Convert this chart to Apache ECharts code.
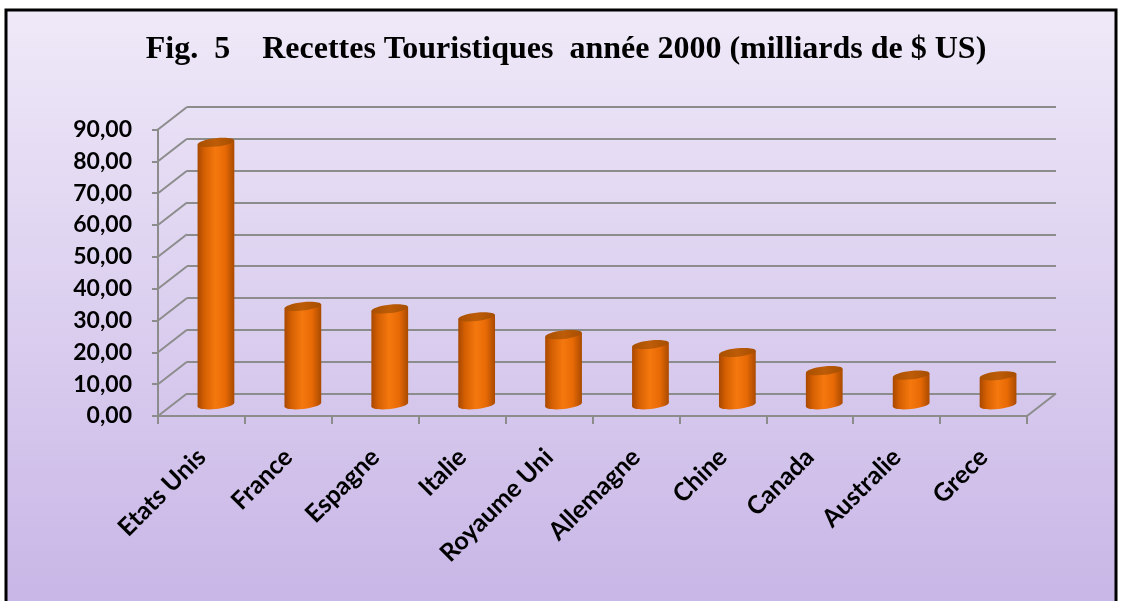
<!DOCTYPE html>
<html>
<head>
<meta charset="utf-8">
<script src="https://cdn.jsdelivr.net/npm/echarts@6/dist/echarts.min.js"></script>
<style>
html,body{margin:0;padding:0;background:#fff;}
#chart{width:1123px;height:601px;}
</style>
</head>
<body>
<div id="chart"></div>
<script>
// ---- data ----
const categories = ['Etats Unis', 'France', 'Espagne', 'Italie', 'Royaume Uni', 'Allemagne', 'Chine', 'Canada', 'Australie', 'Grece'];
const values = [82.4, 30.9, 30.1, 27.6, 22.0, 18.9, 16.4, 10.7, 9.3, 9.1];
const yTicks = [0, 10, 20, 30, 40, 50, 60, 70, 80, 90];
const titleText = 'Fig.  5    Recettes Touristiques  année 2000 (milliards de $ US)';

// ---- style constants ----
const DX = 29, DY = -22.5;       // depth offset of back wall
const GRID_COLOR = '#8c8c8c';
const LABEL_FONT = 'Lato';

const chart = echarts.init(document.getElementById('chart'), null, {renderer: 'canvas'});

function fmt(v) { return v.toFixed(2).replace('.', ','); }

const option = {
  backgroundColor: '#ffffff',
  animation: false,
  graphic: [
    {
      type: 'rect', z: -10, silent: true,
      shape: {x: 6, y: 10, width: 1110, height: 640},
      style: {
        fill: new echarts.graphic.LinearGradient(0, 0, 0, 1, [
          {offset: 0, color: '#efe9f8'},
          {offset: 1, color: '#c5b2e5'}
        ])
      }
    },
    {
      type: 'rect', z: 100, silent: true,
      shape: {x: 6, y: 10, width: 1110, height: 640},
      style: {fill: null, stroke: '#000', lineWidth: 3}
    },
    {
      type: 'text', z: 100, silent: true,
      style: {
        text: titleText, x: 566, y: 50,
        textAlign: 'center', textVerticalAlign: 'middle',
        font: 'bold 32px "Liberation Serif"', fill: '#000'
      }
    }
  ],
  grid: [
    {left: 158, right: 96, top: 129.5, bottom: 185},
    {left: 158 + DX, right: 96 - DX, top: 129.5 + DY, bottom: 185 - DY}
  ],
  xAxis: [
    {
      type: 'category', gridIndex: 0, data: categories,
      axisLine: {show: true, lineStyle: {color: GRID_COLOR, width: 2}},
      axisTick: {show: true, length: 8, lineStyle: {color: GRID_COLOR, width: 2}},
      axisLabel: {
        interval: 0, rotate: 45, margin: 37,
        fontFamily: LABEL_FONT, fontWeight: 'bold', fontSize: 25, color: '#000'
      },
      splitLine: {show: false}
    },
    {type: 'category', gridIndex: 1, data: categories, show: false}
  ],
  yAxis: [
    {
      type: 'value', gridIndex: 0, min: 0, max: 90, interval: 10,
      axisLine: {show: true, lineStyle: {color: GRID_COLOR, width: 2}},
      axisTick: {show: true, length: 6, lineStyle: {color: GRID_COLOR, width: 2}},
      axisLabel: {
        formatter: fmt, margin: 26,
        fontFamily: LABEL_FONT, fontWeight: 'bold', fontSize: 23, color: '#000'
      },
      splitLine: {show: false}
    },
    {
      type: 'value', gridIndex: 1, min: 0, max: 90, interval: 10,
      axisLine: {show: false}, axisTick: {show: false}, axisLabel: {show: false},
      splitLine: {show: true, lineStyle: {color: GRID_COLOR, width: 2}}
    }
  ],
  series: [
    {
      type: 'custom', xAxisIndex: 0, yAxisIndex: 0, z: 1, silent: true, clip: false,
      data: yTicks.map(v => [0, v]),
      renderItem: function (params, api) {
        const cs = params.coordSys;
        const y = api.coord([0, api.value(1)])[1];
        const left = cs.x, right = cs.x + cs.width;
        const children = [{
          type: 'line',
          shape: {x1: left, y1: y, x2: left + DX, y2: y + DY},
          style: {stroke: GRID_COLOR, lineWidth: 2}
        }];
        if (api.value(1) === yTicks[0]) {
          children.push({
            type: 'line',
            shape: {x1: right, y1: y, x2: right + DX, y2: y + DY},
            style: {stroke: GRID_COLOR, lineWidth: 2}
          });
        }
        return {type: 'group', children: children};
      }
    },
    {
      type: 'custom', xAxisIndex: 0, yAxisIndex: 0, z: 5, silent: true, clip: false,
      data: values.map((v, i) => [i, v]),
      renderItem: function (params, api) {
        const idx = api.value(0);
        const top = api.coord([idx, api.value(1)]);
        const base = api.coord([idx, 0]);
        const band = api.size([1, 0])[0];
        const w = band * 0.423;
        const rx = w / 2, ry = 4.2;
        const cx = top[0] + DX / 2;
        const topY = top[1] + DY / 2;
        const baseY = base[1] + DY / 2;
        const rot = 0.11;
        const t = rx * Math.sin(rot);
        const bodyGrad = new echarts.graphic.LinearGradient(0, 0, 1, 0, [
          {offset: 0, color: '#a84800'},
          {offset: 0.18, color: '#d45f02'},
          {offset: 0.48, color: '#f5780e'},
          {offset: 0.75, color: '#e86a06'},
          {offset: 1, color: '#a94a00'}
        ]);
        const topGrad = new echarts.graphic.LinearGradient(0, 0, 1, 0, [
          {offset: 0, color: '#a85000'},
          {offset: 0.5, color: '#bd5c08'},
          {offset: 1, color: '#a64e00'}
        ]);
        return {
          type: 'group',
          children: [
            {
              type: 'ellipse',
              shape: {cx: 0, cy: 0, rx: rx, ry: ry},
              x: cx, y: baseY, rotation: rot,
              style: {fill: bodyGrad}
            },
            {
              type: 'polygon',
              shape: {points: [
                [cx - rx, topY + t], [cx + rx, topY - t],
                [cx + rx, baseY - t], [cx - rx, baseY + t]
              ]},
              style: {fill: bodyGrad}
            },
            {
              type: 'ellipse',
              shape: {cx: 0, cy: 0, rx: rx, ry: ry},
              x: cx, y: topY, rotation: rot,
              style: {fill: topGrad}
            }
          ]
        };
      }
    }
  ]
};
chart.setOption(option);
</script>
</body>
</html>
